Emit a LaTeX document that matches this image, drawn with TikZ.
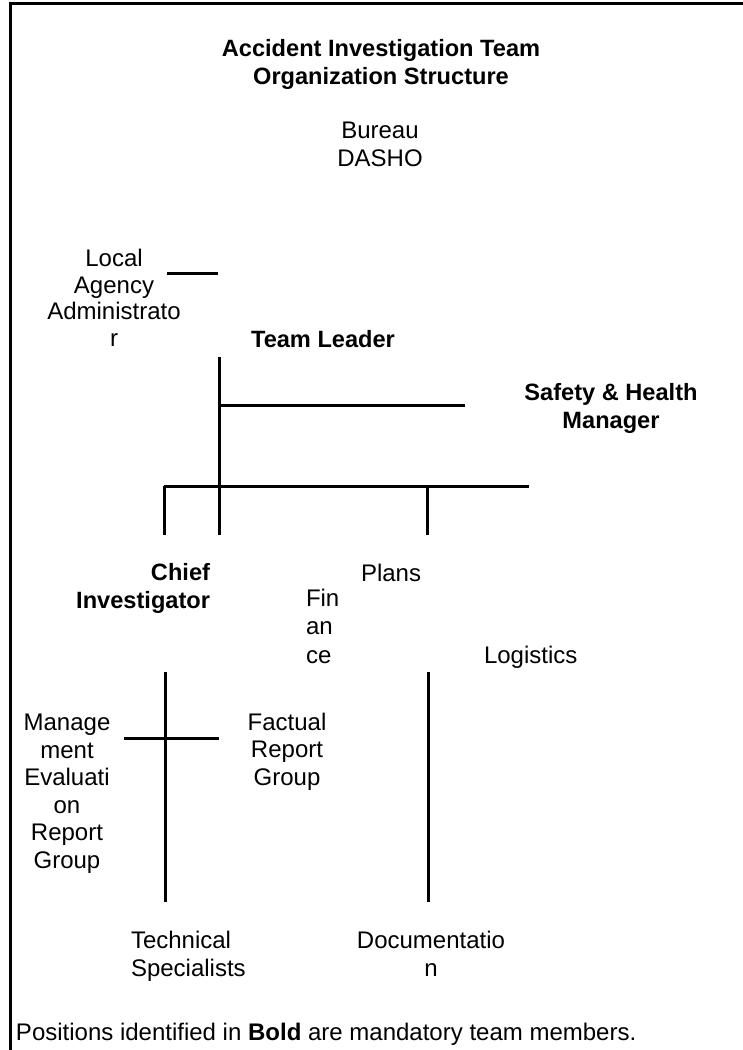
\documentclass[tikz,border=0pt]{standalone}
\usepackage{fontspec}
\setmainfont{Liberation Sans}
\begin{document}
\begin{tikzpicture}[x=0.5pt,y=-0.5pt,
  every node/.style={inner sep=0pt,outer sep=0pt,font=\fontsize{12}{13.75}\selectfont},
  txt/.style={align=center,anchor=base},
  bx/.style={font=\fontsize{11.8}{13.75}\selectfont\bfseries},
  ln/.style={line width=1.5pt}]
\useasboundingbox (0,0) rectangle (743,1050);
% frame
\coordinate (ftr) at (743,3);
\coordinate (ftl) at (10,3);
\coordinate (fbl) at (10,1050);
\draw[ln] (ftr) -- (ftl) -- (fbl);
% texts (multi-line nodes are placed by the baseline of their last line)
\node[txt,bx] (title) at (381,84) {Accident Investigation Team\\Organization Structure};
\node[txt] (bureau) at (380,166) {Bureau\\DASHO};
\node[txt,font=\fontsize{12}{13.25}\selectfont] (local) at (114,346) {Local\\Agency\\Administrato\\r};
\node[txt,bx] (leader) at (323,347) {Team Leader};
\node[txt,bx] (safety) at (611,428) {Safety \& Health\\Manager};
\node[align=right,anchor=base east,bx] (chief) at (210,608) {Chief\\Investigator};
\node[anchor=base west] (plans) at (361,581) {Plans};
\node[align=left,anchor=base west,font=\fontsize{12}{14.25}\selectfont] (finance) at (306,663) {Fin\\an\\ce};
\node[anchor=base west] (logistics) at (484,663) {Logistics};
\node[txt] (mgmt) at (67,868) {Manage\\ment\\Evaluati\\on\\Report\\Group};
\node[txt] (factual) at (287,785) {Factual\\Report\\Group};
\node[align=left,anchor=base west] (tech) at (131,976) {Technical\\Specialists};
\node[txt] (doc) at (431,976) {Documentatio\\n};
\node[anchor=base west] (footer) at (16,1040) {Positions identified in \textbf{Bold} are mandatory team members.};
% connector points
\coordinate (la) at (167,273); \coordinate (lb) at (218,273);
\coordinate (tlt) at (219,357); \coordinate (tlb) at (219,535);
\coordinate (sa) at (219,405); \coordinate (sb) at (465,405);
\coordinate (ha) at (164,486); \coordinate (hb) at (529,486);
\coordinate (ca) at (164,535);
\coordinate (pa) at (427,486); \coordinate (pb) at (427,535);
\coordinate (cvt) at (165,672); \coordinate (cvb) at (165,902);
\coordinate (xa) at (124,738); \coordinate (xb) at (219,738);
\coordinate (dvt) at (428,672); \coordinate (dvb) at (428,902);
\draw[ln] (la) -- (lb);
\draw[ln] (tlt) -- (tlb);
\draw[ln] (sa) -- (sb);
\draw[ln] (ha) -- (hb);
\draw[ln] (ha) -- (ca);
\draw[ln] (pa) -- (pb);
\draw[ln] (cvt) -- (cvb);
\draw[ln] (xa) -- (xb);
\draw[ln] (dvt) -- (dvb);
\end{tikzpicture}
\end{document}
